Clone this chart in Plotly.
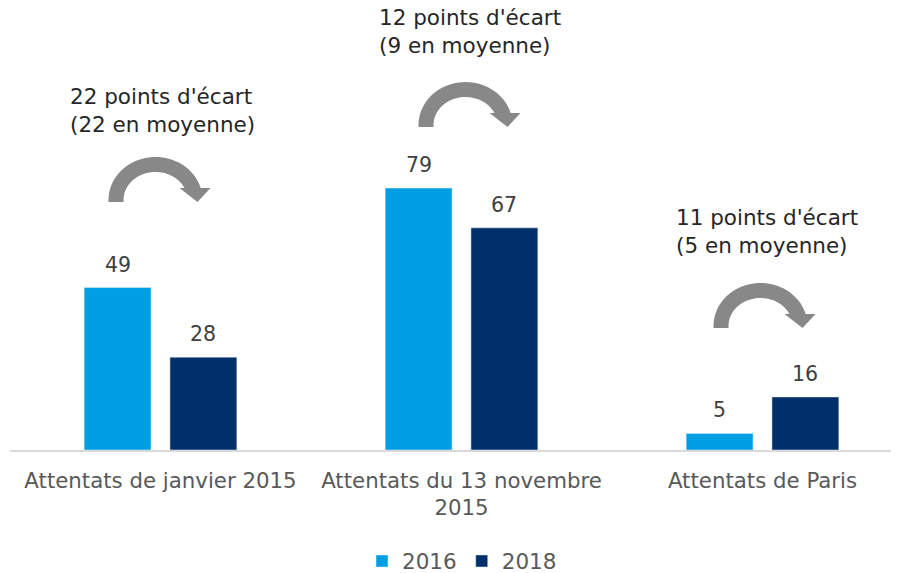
import math
import plotly.graph_objects as go

categories = ["Attentats de janvier 2015", "Attentats du 13 novembre<br>2015", "Attentats de Paris"]
series_names = ["2016", "2018"]
values_2016 = [49, 79, 5]
values_2018 = [28, 67, 16]
notes = [
    "22 points d'écart<br>(22 en moyenne)",
    "12 points d'écart<br>(9 en moyenne)",
    "11 points d'écart<br>(5 en moyenne)",
]

C2016 = "#009FE3"
C2018 = "#00306A"
FONT = "DejaVu Sans"

# page body has an 8px margin; size the figure so it fits the 899x573 window
BODY = 8
W, H = 899 - BODY, 573 - BODY
ML, MR, MT, MB = 2, 0, 2, 123
PLOT_W = W - ML - MR
PLOT_H = H - MT - MB
CAT_PX = 301.0
PX_PER_UNIT = 3.316
YMAX = PLOT_H / PX_PER_UNIT

fig = go.Figure()
fig.add_trace(go.Bar(name=series_names[0], x=categories, y=values_2016, marker_color=C2016))
fig.add_trace(go.Bar(name=series_names[1], x=categories, y=values_2018, marker_color=C2018))

# bar value labels
slot = (1 - 0.43) / 2
for si, vals in enumerate([values_2016, values_2018]):
    off = -slot / 2 if si == 0 else slot / 2
    for ci, v in enumerate(vals):
        fig.add_annotation(x=ci + off, y=v, xref="x", yref="y", text=str(v),
                           showarrow=False, yanchor="middle", yshift=23,
                           font=dict(family=FONT, size=20.5, color="#404040"))

# note texts
note_pos = [(-93, 102.5), (-85, 126.2), (-89, 65.9)]
for ci, (txt, (xs, yv)) in enumerate(zip(notes, note_pos)):
    fig.add_annotation(x=ci, y=yv, xref="x", yref="y", text=txt, showarrow=False,
                       xanchor="left", yanchor="middle", align="left", xshift=xs,
                       font=dict(family=FONT, size=21.5, color="#262626"))


def arrow_path(dx):
    cx, cy = 47.0, -2.0
    pts = [(0.0, 0.0)]
    head_y = -14.0
    ro_x, ro_y = 47.0, 43.0
    ri_x, ri_y = 32.0, 28.0
    to = math.asin((cy - head_y) / ro_y)
    ti = math.asin((cy - head_y) / ri_y)
    n = 40
    for k in range(n + 1):
        t = math.pi + (to - math.pi) * k / n
        pts.append((cx + ro_x * math.cos(t), cy - ro_y * math.sin(t)))
    pts += [(102.0, head_y), (89.0, 0.0), (71.0, head_y)]
    for k in range(n + 1):
        t = ti + (math.pi - ti) * k / n
        pts.append((cx + ri_x * math.cos(t), cy - ri_y * math.sin(t)))
    pts.append((15.0, 0.0))
    s = "M " + " L ".join(f"{dx + x:.2f},{-y:.2f}" for x, y in pts) + " Z"
    return s


arrow_pos = [(-52, 74.8), (-43, 97.4), (-49, 36.8)]
for ci, (dx, ya) in enumerate(arrow_pos):
    fig.add_shape(type="path", xref="x", yref="y", xsizemode="pixel", ysizemode="pixel",
                  xanchor=ci, yanchor=ya, path=arrow_path(dx),
                  fillcolor="#888888", line=dict(width=0))

fig.update_layout(
    width=W, height=H,
    margin=dict(l=ML, r=MR, t=MT, b=MB, autoexpand=False),
    paper_bgcolor="white", plot_bgcolor="white",
    barmode="group", bargap=0.43, bargroupgap=0.22,
    showlegend=True,
    legend=dict(orientation="h", x=(462 - BODY - ML) / PLOT_W, xanchor="center",
                y=-(561 - BODY - (MT + PLOT_H)) / PLOT_H, yanchor="middle",
                font=dict(family=FONT, size=21.5, color="#595959"),
                itemwidth=30, tracegroupgap=0),
    font=dict(family=FONT),
)
fig.update_xaxes(range=[-0.5, -0.5 + PLOT_W / CAT_PX], showline=True, linecolor="#D9D9D9",
                 linewidth=2, showgrid=False, ticks="outside", ticklen=10,
                 tickcolor="rgba(0,0,0,0)", zeroline=False,
                 tickfont=dict(family=FONT, size=21.3, color="#595959"))
fig.update_yaxes(range=[0, YMAX], visible=False, showgrid=False, zeroline=False)

fig.write_html("out.html")
